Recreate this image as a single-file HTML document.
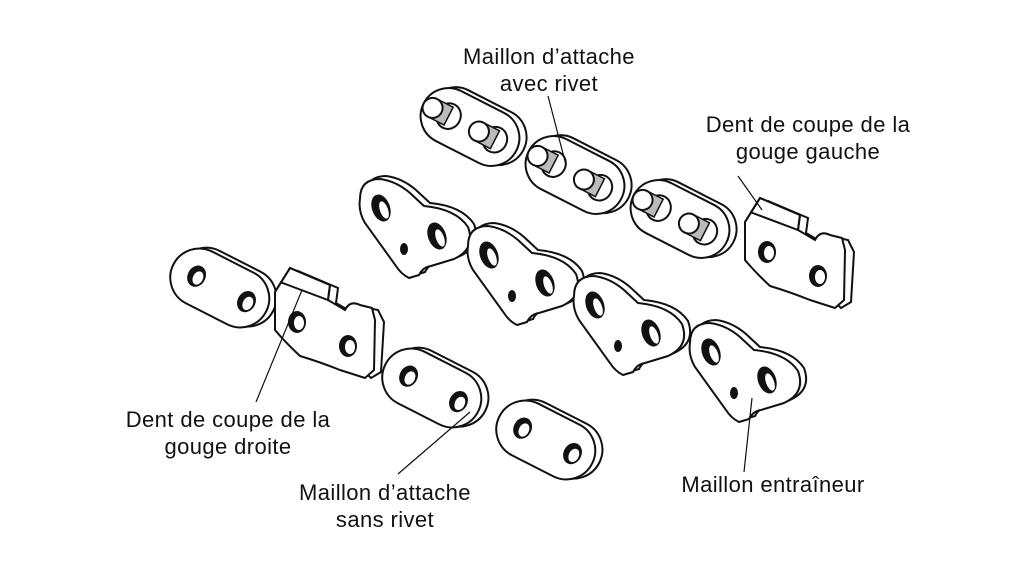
<!DOCTYPE html>
<html><head><meta charset="utf-8">
<style>
html,body{margin:0;padding:0;background:#fff;}
svg{display:block;}
text{font-family:"Liberation Sans",sans-serif;font-size:22px;letter-spacing:0.4px;fill:#111;}
</style></head><body>
<svg width="1024" height="576" viewBox="0 0 1024 576" xmlns="http://www.w3.org/2000/svg">
<defs>
<g id="tie">
  <rect x="-48" y="-32" width="104" height="58" rx="29" fill="#fff" stroke="#111" stroke-width="2"/>
  <rect x="-54" y="-28" width="104" height="58" rx="29" fill="#fff" stroke="#111" stroke-width="2"/>
  <ellipse cx="-28" cy="1" rx="9" ry="11" fill="#111"/>
  <ellipse cx="-26" cy="2" rx="5" ry="7" fill="#fff"/>
  <ellipse cx="28" cy="1" rx="9" ry="11" fill="#111"/>
  <ellipse cx="30" cy="2" rx="5" ry="7" fill="#fff"/>
</g>
<g id="drive">
  <path d="M366,196 Q366,176 386,176 Q402,178 416,190 L430,203 Q462,206 474,224 Q482,246 460,256 L437,263 Q429,264 425,272 L415,275 Q407,271 402,263 L371,220 Q364,208 366,196 Z" fill="#fff" stroke="#111" stroke-width="2"/>
  <path d="M360,199 Q360,179 380,179 Q396,181 410,193 L424,206 Q456,209 468,227 Q476,249 454,259 L431,266 Q423,267 419,275 L409,278 Q401,274 396,266 L365,223 Q358,211 360,199 Z" fill="#fff" stroke="#111" stroke-width="2"/>
  <ellipse cx="381" cy="208" rx="9" ry="14" fill="#111" transform="rotate(-20 381 208)"/>
  <ellipse cx="384" cy="210" rx="4" ry="9" fill="#fff" transform="rotate(-20 384 210)"/>
  <ellipse cx="437" cy="236" rx="9" ry="14" fill="#111" transform="rotate(-20 437 236)"/>
  <ellipse cx="440" cy="238" rx="4" ry="9" fill="#fff" transform="rotate(-20 440 238)"/>
  <ellipse cx="404" cy="249" rx="4" ry="6" fill="#111"/>
</g>
<g id="cutter">
  <path d="M283,293 L298,271 L338,288 L336,303 L353,313 Q358,303 368,308 L378,310 L384,322 L381,372 L371,378 Z" fill="#fff" stroke="#111" stroke-width="2"/>
  <path d="M275,292 L290,268 L330,285 L328,300 L345,310 Q350,300 360,305 L372,308 L375,320 L374,370 L365,378 L340,370 Q320,362 300,356 Q285,342 275,330 Z" fill="#fff" stroke="#111" stroke-width="2"/>
  <path d="M275,292 L290,268 L330,285 L328,300 L280,282" fill="none" stroke="#111" stroke-width="2"/>
  <ellipse cx="297" cy="322" rx="9" ry="11" fill="#111"/>
  <ellipse cx="299" cy="323" rx="5" ry="7" fill="#fff"/>
  <ellipse cx="348" cy="346" rx="9" ry="11" fill="#111"/>
  <ellipse cx="350" cy="347" rx="5" ry="7" fill="#fff"/>
</g>
<g id="rivet">
  <rect x="-46" y="-32" width="104" height="56" rx="28" fill="#fff" stroke="#111" stroke-width="2"/>
  <rect x="-52" y="-28" width="104" height="56" rx="28" fill="#fff" stroke="#111" stroke-width="2"/>
  <ellipse cx="-24" cy="0" rx="12" ry="13" fill="#fff" stroke="#111" stroke-width="2"/>
  <rect x="-42" y="-10" width="18" height="20" fill="#bbb" stroke="#111" stroke-width="1.5"/>
  <ellipse cx="-42" cy="0" rx="10" ry="10" fill="#fff" stroke="#111" stroke-width="2"/>
  <ellipse cx="28" cy="0" rx="12" ry="13" fill="#fff" stroke="#111" stroke-width="2"/>
  <rect x="10" y="-10" width="18" height="20" fill="#bbb" stroke="#111" stroke-width="1.5"/>
  <ellipse cx="10" cy="0" rx="10" ry="10" fill="#fff" stroke="#111" stroke-width="2"/>
</g>
</defs>

<use href="#rivet" transform="translate(470,127) rotate(27)"/>
<use href="#rivet" transform="translate(575,175) rotate(27)"/>
<use href="#rivet" transform="translate(680,219) rotate(27)"/>
<use href="#cutter" transform="translate(470,-70)"/>

<use href="#drive"/>
<use href="#drive" transform="translate(108,47)"/>
<use href="#drive" transform="translate(214,97)"/>
<use href="#drive" transform="translate(330,144)"/>

<use href="#tie" transform="translate(222,288) rotate(27)"/>
<use href="#cutter"/>
<use href="#tie" transform="translate(434,388) rotate(27)"/>
<use href="#tie" transform="translate(548,440) rotate(27)"/>

<g stroke="#111" stroke-width="1.2">
<line x1="548" y1="96" x2="566" y2="165"/>
<line x1="738" y1="176" x2="762" y2="210"/>
<line x1="256" y1="402" x2="302" y2="290"/>
<line x1="398" y1="474" x2="470" y2="412"/>
<line x1="744" y1="472" x2="752" y2="398"/>
</g>

<g text-anchor="middle">
<text x="549" y="64">Maillon d’attache</text>
<text x="549" y="91">avec rivet</text>
<text x="808" y="132">Dent de coupe de la</text>
<text x="808" y="159">gouge gauche</text>
<text x="228" y="427">Dent de coupe de la</text>
<text x="228" y="454">gouge droite</text>
<text x="385" y="500">Maillon d’attache</text>
<text x="385" y="527">sans rivet</text>
<text x="773" y="492">Maillon entraîneur</text>
</g>
</svg>
</body></html>
